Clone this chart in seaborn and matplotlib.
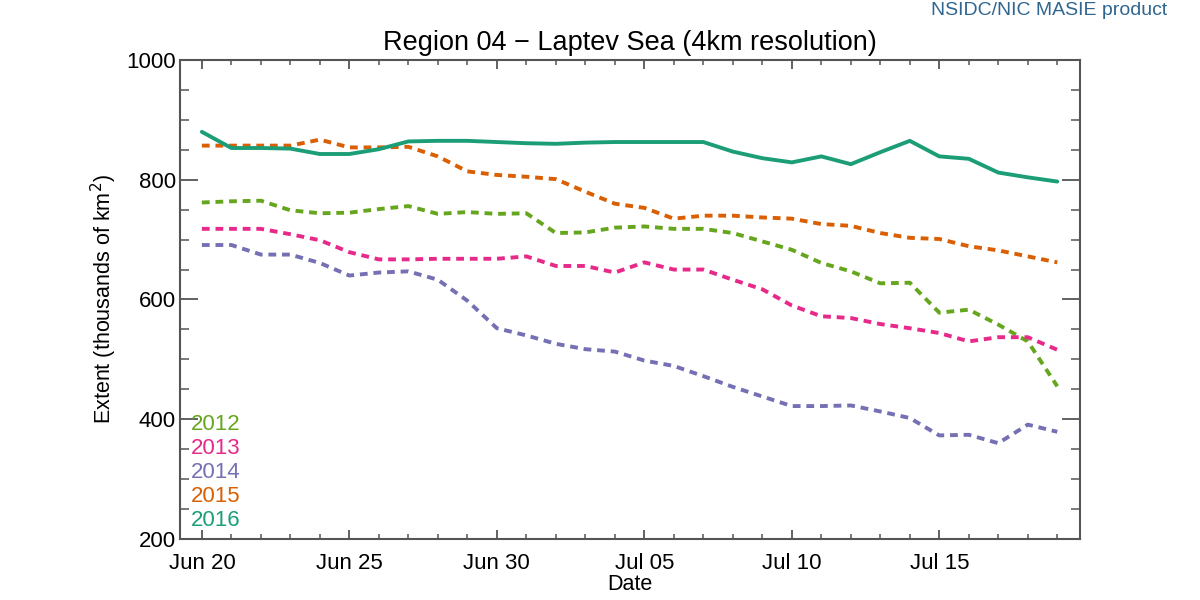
import numpy as np
import pandas as pd
import matplotlib
matplotlib.use("Agg")
import matplotlib.pyplot as plt
import matplotlib.dates as mdates
from matplotlib.ticker import MultipleLocator
import seaborn as sns

# ---------------- data ----------------
start_date = "2016-06-20"
n_days = 30
years = ["2012", "2013", "2014", "2015", "2016"]

ext_2012 = [762, 764, 765, 749, 744, 745, 751, 756, 743, 746,
            743, 744, 711, 712, 720, 722, 718, 718, 711, 697,
            683, 661, 647, 627, 628, 578, 583, 558, 530, 455]
ext_2013 = [718, 718, 718, 709, 699, 679, 667, 667, 668, 668,
            668, 672, 656, 656, 645, 662, 650, 650, 633, 617,
            590, 572, 569, 559, 552, 544, 530, 537, 537, 516]
ext_2014 = [691, 691, 675, 675, 661, 640, 645, 647, 633, 598,
            552, 540, 526, 517, 513, 498, 489, 472, 454, 438,
            422, 422, 423, 413, 402, 373, 374, 360, 391, 379]
ext_2015 = [857, 857, 857, 857, 867, 854, 854, 855, 839, 814,
            808, 805, 801, 780, 760, 753, 735, 740, 740, 737,
            735, 726, 723, 711, 703, 701, 689, 682, 672, 662]
ext_2016 = [880, 853, 853, 852, 843, 843, 851, 864, 865, 865,
            863, 861, 860, 862, 863, 863, 863, 863, 847, 836,
            829, 839, 826, 846, 865, 839, 835, 812, 804, 797]

tick_dates = ["2016-06-20", "2016-06-25", "2016-06-30",
              "2016-07-05", "2016-07-10", "2016-07-15"]
tick_labels = ["Jun 20", "Jun 25", "Jun 30", "Jul 05", "Jul 10", "Jul 15"]
y_ticks = [200, 400, 600, 800, 1000]

colors = {"2012": "#66a61e", "2013": "#e7298a", "2014": "#7570b3",
          "2015": "#d95f02", "2016": "#1b9e77"}

dates = pd.date_range(start_date, periods=n_days)
series = {"2012": ext_2012, "2013": ext_2013, "2014": ext_2014,
          "2015": ext_2015, "2016": ext_2016}
df = pd.concat([pd.DataFrame({"Date": dates, "Extent": v, "Year": k})
                for k, v in series.items()], ignore_index=True)

# ---------------- plot ----------------
sns.set_theme(style="ticks")
plt.rcParams["font.family"] = ["Liberation Sans", "DejaVu Sans"]
plt.rcParams["text.color"] = "black"
plt.rcParams["axes.labelcolor"] = "black"

fig = plt.figure(figsize=(12, 6), dpi=100)
ax = fig.add_axes([0.15, 0.1017, 0.75, 0.7983])

dash_map = {"2012": (2.0, 1.5), "2013": (2.0, 1.5), "2014": (2.0, 1.5),
            "2015": (2.0, 1.5), "2016": ""}
sns.lineplot(data=df, x="Date", y="Extent", hue="Year", style="Year",
             palette=colors, dashes=dash_map, linewidth=2.8,
             legend=False, ax=ax)

ax.set_ylim(200, 1000)
x0 = pd.Timestamp(start_date)
ax.set_xlim(x0 - pd.Timedelta(hours=17.8), x0 + pd.Timedelta(days=29.77))

ax.set_xticks(pd.to_datetime(tick_dates))
ax.set_xticklabels(tick_labels)
ax.xaxis.set_minor_locator(mdates.DayLocator())
ax.set_yticks(y_ticks)
ax.set_yticklabels([str(v) for v in y_ticks])
ax.yaxis.set_minor_locator(MultipleLocator(50))

spine_col = "#555555"
for s in ax.spines.values():
    s.set_color(spine_col)
    s.set_linewidth(1.5)
    s.set_visible(True)

ax.tick_params(axis="x", which="major", direction="in", length=6.5, width=1.3,
               color=spine_col, top=True, bottom=True, labelsize=16, pad=10,
               labelcolor="black")
ax.tick_params(axis="x", which="minor", direction="in", length=3.6, width=1.1,
               color=spine_col, top=True, bottom=True)
ax.tick_params(axis="y", which="major", direction="in", length=13, width=1.3,
               color=spine_col, left=True, right=True, labelsize=16, pad=3,
               labelcolor="black")
ax.tick_params(axis="y", which="minor", direction="in", length=6.5, width=1.1,
               color=spine_col, left=True, right=True)

ax.set_xlabel("Date", fontsize=15.5, labelpad=0, color="black")
ax.set_ylabel("Extent (thousands of km$^2$)", fontsize=15.5, labelpad=5,
              color="black")
ax.set_title("Region 04 \u2212 Laptev Sea (4km resolution)", fontsize=19.5,
             pad=7, color="black")

# year legend as coloured text
for i, yr in enumerate(years):
    ax.text(0.012, 0.238 - i * 0.05, yr, transform=ax.transAxes,
            color=colors[yr], fontsize=16, ha="left", va="center")

fig.text(0.973, 0.983, "NSIDC/NIC MASIE product", color="#2f6690",
         fontsize=14, ha="right", va="center")

fig.savefig("out.png", dpi=100)
